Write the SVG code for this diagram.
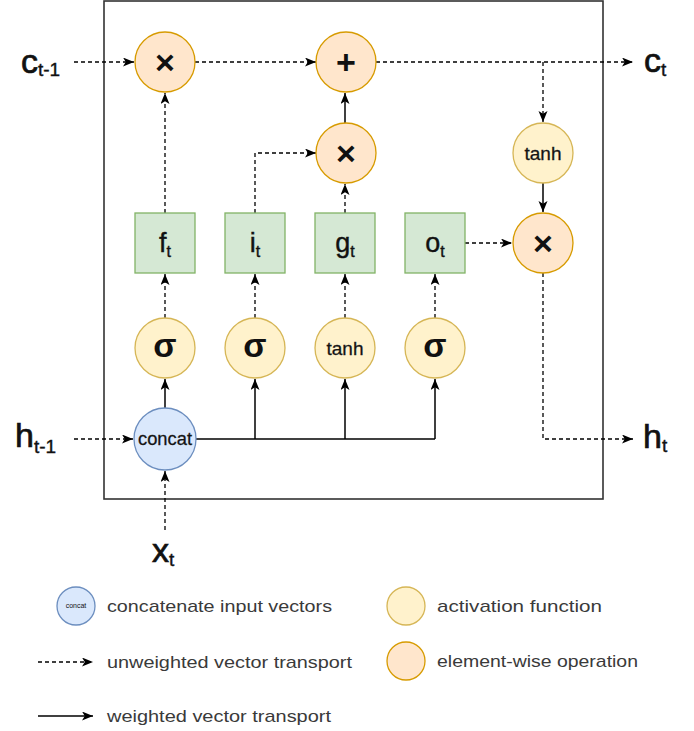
<svg xmlns="http://www.w3.org/2000/svg" width="694" height="731" viewBox="0 0 694 731">
<defs>
<marker id="ah" markerUnits="userSpaceOnUse" markerWidth="13" markerHeight="10" refX="11" refY="4.5" orient="auto">
<path d="M0,0 L11,4.5 L0,9 L2.8,4.5 Z" fill="#000"/>
</marker>
<style>
.op{fill:#ffe6cc;stroke:#d79b00;stroke-width:1.3}
.act{fill:#fff2cc;stroke:#d6b656;stroke-width:1.3}
.cat{fill:#dae8fc;stroke:#6c8ebf;stroke-width:1.3}
.gate{fill:#d5e8d4;stroke:#82b366;stroke-width:1.3}
.d{fill:none;stroke:#000;stroke-width:1.3;stroke-dasharray:4 3}
.s{fill:none;stroke:#000;stroke-width:1.5}
.a{marker-end:url(#ah)}
text{font-family:"Liberation Sans",Arial,sans-serif;fill:#111}
.sym{font-size:34px;font-weight:bold;text-anchor:middle}
.sig{font-size:34px;font-weight:bold;text-anchor:middle}
.fn{font-size:19px;text-anchor:middle;stroke:#222;stroke-width:0.3}
.lbl{font-size:34px;stroke:#111;stroke-width:0.7}
.sub{font-size:19px;stroke-width:0.4}
.gl{font-size:27px;text-anchor:middle;stroke:#111;stroke-width:0.4}
.gs{font-size:16px}
.leg{font-size:17px;fill:#3a3a3a}
</style>
</defs>
<rect width="694" height="731" fill="#fff"/>
<rect id="cell" x="104" y="1" width="499" height="498" fill="none" stroke="#333" stroke-width="1.6"/>

<g id="connectors">
<path class="d a" d="M74,62 H134"/>
<path class="d a" d="M195,62 H316"/>
<path class="d a" d="M376,62 H633"/>
<path class="d a" d="M543,62 V122"/>
<path class="s a" d="M543,183 V212"/>
<path class="d a" d="M543,273 V439 H633"/>
<path class="d a" d="M165,213 V93"/>
<path class="d a" d="M255,213 V153 H316"/>
<path class="d a" d="M345,213 V184"/>
<path class="s a" d="M345,123 V93"/>
<path class="d a" d="M465,243 H512"/>
<path class="d a" d="M165,318 V274"/>
<path class="d a" d="M255,318 V274"/>
<path class="d a" d="M345,318 V274"/>
<path class="d a" d="M435,318 V274"/>
<path class="s a" d="M165,408 V379"/>
<path class="s" d="M196,439 H435"/>
<path class="s a" d="M255,439 V379"/>
<path class="s a" d="M345,439 V379"/>
<path class="s a" d="M435,439 V379"/>
<path class="d a" d="M74,439 H133"/>
<path class="d a" d="M165,530 V471"/>
</g>

<g id="mul-forget"><circle class="op" cx="165" cy="62" r="30"/><text class="sym" x="165" y="74">×</text></g>
<g id="add"><circle class="op" cx="346" cy="62" r="30"/><text class="sym" x="346" y="74">+</text></g>
<g id="mul-input"><circle class="op" cx="346" cy="153" r="30"/><text class="sym" x="346" y="165">×</text></g>
<g id="tanh-out"><circle class="act" cx="543" cy="153" r="30"/><text class="fn" x="543" y="160">tanh</text></g>
<g id="mul-output"><circle class="op" cx="543" cy="243" r="30"/><text class="sym" x="543" y="255">×</text></g>

<g id="gate-f"><rect class="gate" x="135" y="213" width="60" height="60"/><text class="gl" x="165" y="252">f<tspan class="gs" dy="5">t</tspan></text></g>
<g id="gate-i"><rect class="gate" x="225" y="213" width="60" height="60"/><text class="gl" x="255" y="252">i<tspan class="gs" dy="5">t</tspan></text></g>
<g id="gate-g"><rect class="gate" x="315" y="213" width="60" height="60"/><text class="gl" x="345" y="252">g<tspan class="gs" dy="5">t</tspan></text></g>
<g id="gate-o"><rect class="gate" x="405" y="213" width="60" height="60"/><text class="gl" x="435" y="252">o<tspan class="gs" dy="5">t</tspan></text></g>

<g id="sig-f"><circle class="act" cx="165" cy="348" r="30"/><text class="sig" x="165" y="357">σ</text></g>
<g id="sig-i"><circle class="act" cx="255" cy="348" r="30"/><text class="sig" x="255" y="357">σ</text></g>
<g id="tanh-g"><circle class="act" cx="345" cy="348" r="30"/><text class="fn" x="345" y="355">tanh</text></g>
<g id="sig-o"><circle class="act" cx="435" cy="348" r="30"/><text class="sig" x="435" y="357">σ</text></g>

<g id="concat"><circle class="cat" cx="165" cy="439" r="31"/><text class="fn" x="165" y="445" font-size="18" textLength="54" lengthAdjust="spacingAndGlyphs">concat</text></g>

<g id="label-c-prev"><text class="lbl" x="21" y="73">c<tspan class="sub" dy="3">t-1</tspan></text></g>
<g id="label-c"><text class="lbl" x="644" y="72">c<tspan class="sub" dy="4">t</tspan></text></g>
<g id="label-h-prev"><text class="lbl" x="15" y="447">h<tspan class="sub" dy="6">t-1</tspan></text></g>
<g id="label-h"><text class="lbl" x="643" y="448">h<tspan class="sub" dy="4">t</tspan></text></g>
<g id="label-x"><text class="lbl" x="152" y="562">x<tspan class="sub" dy="4">t</tspan></text></g>

<g id="legend">
<circle class="cat" cx="76" cy="606" r="19"/>
<text x="76" y="608" font-size="7" text-anchor="middle" fill="#333">concat</text>
<text class="leg" x="107" y="612" textLength="225" lengthAdjust="spacingAndGlyphs">concatenate input vectors</text>
<path class="d a" d="M38,662 H93"/>
<text class="leg" x="107" y="668" textLength="245" lengthAdjust="spacingAndGlyphs">unweighted vector transport</text>
<path class="s a" d="M38,716 H93"/>
<text class="leg" x="107" y="722" textLength="224" lengthAdjust="spacingAndGlyphs">weighted vector transport</text>
<circle class="act" cx="406" cy="606" r="19"/>
<text class="leg" x="437" y="612" textLength="165" lengthAdjust="spacingAndGlyphs">activation function</text>
<circle class="op" cx="406" cy="661" r="19"/>
<text class="leg" x="437" y="667" textLength="201" lengthAdjust="spacingAndGlyphs">element-wise operation</text>
</g>
</svg>
